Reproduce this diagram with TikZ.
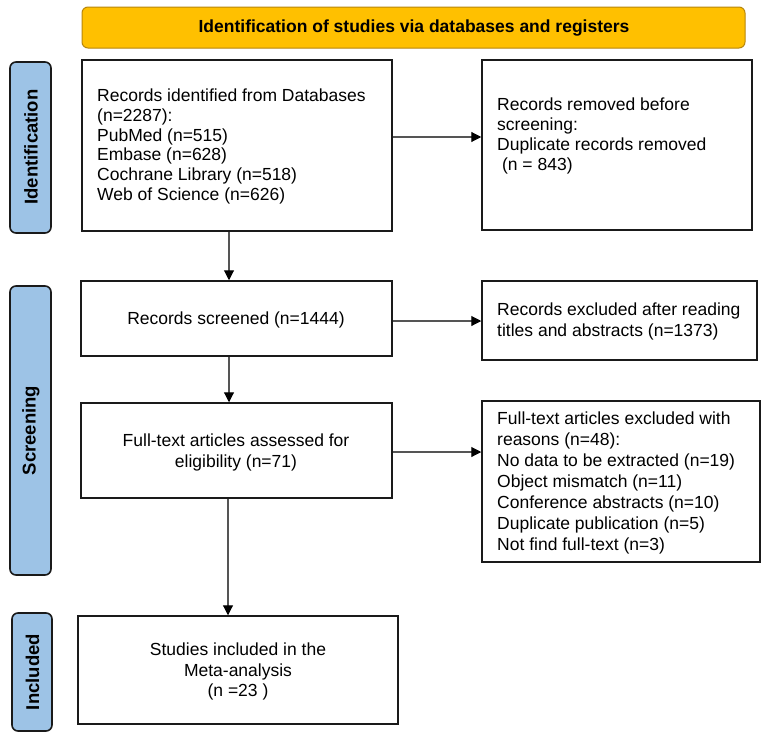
\documentclass[tikz,border=0pt]{standalone}
\usepackage{fontspec}
\setmainfont{Liberation Sans}
\usetikzlibrary{arrows.meta,calc}
\definecolor{gold}{HTML}{FFC000}
\definecolor{goldedge}{HTML}{B8860B}
\definecolor{sideblue}{HTML}{9DC3E6}
\definecolor{edge}{HTML}{1A1A1A}
\definecolor{arrgray}{HTML}{555555}
\tikzset{
  box/.style={draw=edge, line width=1.5pt, fill=white, rectangle, inner sep=0pt},
  txt/.style={font=\fontsize{17.5}{20.3}\selectfont, inner sep=0pt},
  side/.style={draw=edge, line width=1.6pt, fill=sideblue, rounded corners=6pt, inner sep=0pt},
  sidetxt/.style={font=\bfseries\fontsize{18.5}{20}\selectfont, rotate=90, inner sep=0pt},
  arr/.style={draw=arrgray, line width=1.1pt, -{Triangle[length=10pt,width=10pt,fill=black,color=black]}}
}
\begin{document}
\begin{tikzpicture}[x=1pt,y=-1pt]
\useasboundingbox (0,0) rectangle (767,736);
\fill[white] (0,0) rectangle (767,736);

% banner
\node[draw=goldedge, line width=1pt, fill=gold, rounded corners=6pt, minimum width=663pt, minimum height=41pt, inner sep=0pt] (banner) at (413.5,27.5) {};
\node[font=\bfseries\fontsize{17.5}{20}\selectfont, inner sep=0pt] (bannertxt) at (414,28) {Identification of studies via databases and registers};

% side labels
\node[side, minimum width=41pt, minimum height=171pt] (sid) at (30.5,147.5) {};
\node[sidetxt] (sidt) at (31,147) {Identification};
\node[side, minimum width=41pt, minimum height=289pt] (sscr) at (30.5,430.5) {};
\node[sidetxt] (sscrt) at (31,430.5) {Screening};
\node[side, minimum width=40pt, minimum height=118pt] (sinc) at (32,672) {};
\node[sidetxt] (sinct) at (32.5,672) {Included};

% boxes
\node[box, minimum width=310pt, minimum height=171pt] (b1) at (237,145.5) {};
\node[txt, anchor=west, align=left, font=\fontsize{17.5}{19.8}\selectfont] (b1t) at (97,146.5) {Records identified from Databases\\(n=2287):\\PubMed (n=515)\\Embase (n=628)\\Cochrane Library (n=518)\\Web of Science (n=626)};

\node[box, minimum width=270pt, minimum height=170pt] (b2) at (617,145) {};
\node[txt, anchor=west, align=left] (b2t) at (497,136) {Records removed before\\screening:\\Duplicate records removed\\\ (n = 843)};

\node[box, minimum width=311pt, minimum height=75pt] (b3) at (236.5,318.5) {};
\node[txt] (b3t) at (236,320) {Records screened (n=1444)};

\node[box, minimum width=275pt, minimum height=79pt] (b4) at (619.5,320.5) {};
\node[txt, anchor=west, align=left] (b4t) at (497,321.5) {Records excluded after reading\\titles and abstracts (n=1373)};

\node[box, minimum width=311pt, minimum height=95pt] (b5) at (236.5,450.5) {};
\node[txt, align=center] (b5t) at (236,452.5) {Full-text articles assessed for\\eligibility (n=71)};

\node[box, minimum width=278pt, minimum height=161pt] (b6) at (621,481.5) {};
\node[txt, anchor=west, align=left, font=\fontsize{17.5}{21}\selectfont] (b6t) at (497,483) {Full-text articles excluded with\\reasons (n=48):\\No data to be extracted (n=19)\\Object mismatch (n=11)\\Conference abstracts (n=10)\\Duplicate publication (n=5)\\Not find full-text (n=3)};

\node[box, minimum width=320pt, minimum height=108pt] (b7) at (238,670) {};
\node[txt, align=center] (b7t) at (238,671.5) {Studies included in the\\Meta-analysis\\(n =23 )};

% arrows
\draw[arr] ([yshift=8.5pt]b1.east) -- ([yshift=8.5pt]b1.east -| b2.west);
\draw[arr] ([xshift=-8pt]b1.south) -- ([xshift=-8pt]b1.south |- b3.north);
\draw[arr] ([yshift=-2.5pt]b3.east) -- ([yshift=-2.5pt]b3.east -| b4.west);
\draw[arr] ([xshift=-7.5pt]b3.south) -- ([xshift=-7.5pt]b3.south |- b5.north);
\draw[arr] ([yshift=-1.5pt]b5.east) -- ([yshift=-1.5pt]b5.east -| b6.west);
\draw[arr] ([xshift=-8.5pt]b5.south) -- ([xshift=-8.5pt]b5.south |- b7.north);
\end{tikzpicture}
\end{document}
